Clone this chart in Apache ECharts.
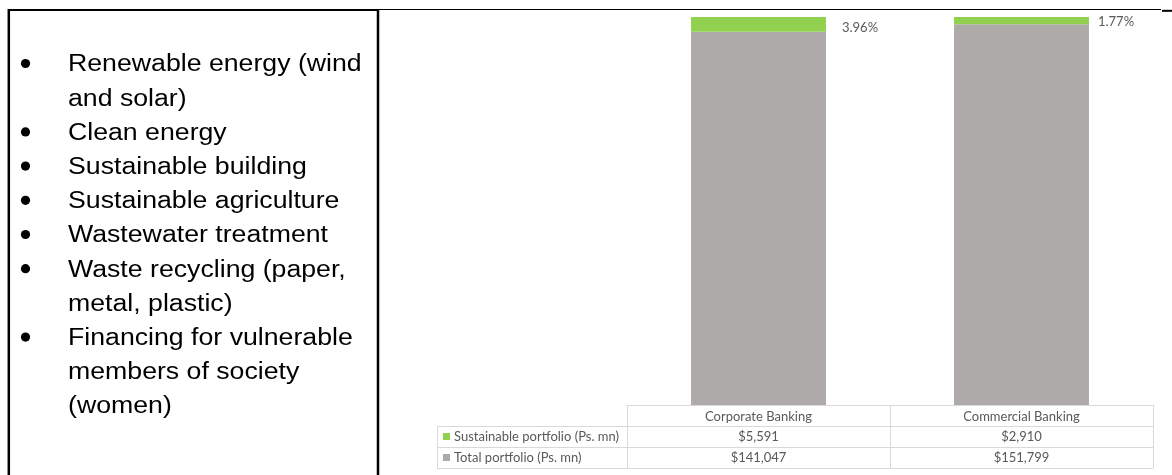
<!DOCTYPE html>
<html><head><meta charset="utf-8">
<script src="https://cdn.jsdelivr.net/npm/echarts@6/dist/echarts.min.js"></script>
<style>html,body{margin:0;padding:0;background:#fff}#c{width:1172px;height:475px}</style>
</head><body><div id="c"></div>
<script>
// ---- data ----
const categories = ['Corporate Banking', 'Commercial Banking'];
const sustainable = [5591, 2910];        // Sustainable portfolio (Ps. mn)
const total = [141047, 151799];          // Total portfolio (Ps. mn)
const shareLabels = ['3.96%', '1.77%'];
const seriesNames = ['Sustainable portfolio (Ps. mn)', 'Total portfolio (Ps. mn)'];
const valueText = [['$5,591', '$2,910'], ['$141,047', '$151,799']];
const bullets = [
  ['Renewable energy (wind', 'and solar)'],
  ['Clean energy'],
  ['Sustainable building'],
  ['Sustainable agriculture'],
  ['Wastewater treatment'],
  ['Waste recycling (paper,', 'metal, plastic)'],
  ['Financing for vulnerable', 'members of society', '(women)']
];

// ---- layout / style ----
const W = 1172, H = 475;
const GL = 627, GR = 1153, GT = 17, GB = 405;
const ROW_H = 21, TL = 437;
const GREEN = '#92d050', GRAY = '#aeaaaa', GRID = '#d9d9d9', TXT = '#595959';
const CHART_FONT = 'Lato, "Open Sans", sans-serif';
const LABEL_OFFSETS = [[16, 3], [9, 1]];

// 100% stacked shares
const sumArr = sustainable.map((s, i) => s + total[i]);
const susShare = sustainable.map((s, i) => s / sumArr[i] * 100);
const totShare = total.map((t, i) => t / sumArr[i] * 100);

const graphics = [];
// frame lines
const blk = (x1, y1, x2, y2, w) => graphics.push({type: 'line', silent: true, shape: {x1, y1, x2, y2}, style: {stroke: '#000', lineWidth: w}});
blk(8, 10, 379, 10, 2);
blk(379, 9.5, 1161, 9.5, 1);
blk(1162, 10.8, 1172, 10.8, 2);
blk(8.8, 9, 8.8, H, 2.5);
blk(378, 9, 378, H, 2.5);

// bullet list
let line = 0;
const MID0 = 65, LSTEP = 34.2;
bullets.forEach(item => {
  const by = MID0 + line * LSTEP;
  graphics.push({type: 'circle', silent: true, shape: {cx: 25.5, cy: by - 1.5, r: 4.6}, style: {fill: '#000'}});
  item.forEach(t => {
    const y = MID0 + line * LSTEP;
    graphics.push({type: 'text', silent: true, x: 68, y: y, scaleX: 1.16,
      style: {text: t, x: 0, y: 0, fill: '#000', font: '23px "Liberation Sans", Arial, sans-serif', verticalAlign: 'middle'}});
    line++;
  });
});

// data table
const gl = (x1, y1, x2, y2) => graphics.push({type: 'line', silent: true, shape: {x1, y1, x2, y2}, style: {stroke: GRID, lineWidth: 1}});
const colX = [GL];
const colW = (GR - GL) / categories.length;
categories.forEach((c, i) => colX.push(GL + colW * (i + 1)));
for (let r = 1; r <= 3; r++) gl(TL, GB + r * ROW_H + 0.5, GR, GB + r * ROW_H + 0.5);
gl(TL + 0.5, GB + ROW_H, TL + 0.5, GB + 3 * ROW_H);
colX.forEach(x => gl(Math.round(x) + 0.5, GB, Math.round(x) + 0.5, GB + 3 * ROW_H));
const legendColors = [GREEN, GRAY];
seriesNames.forEach((n, r) => {
  const cy = GB + (r + 1.5) * ROW_H;
  graphics.push({type: 'rect', silent: true, shape: {x: 443, y: cy - 3.5, width: 7, height: 7}, style: {fill: legendColors[r]}});
  graphics.push({type: 'text', silent: true, style: {text: n, x: 454, y: cy, fill: TXT, font: '13px ' + CHART_FONT, verticalAlign: 'middle'}});
  valueText[r].forEach((v, i) => {
    graphics.push({type: 'text', silent: true, style: {text: v, x: GL + colW * (i + 0.5), y: cy, fill: TXT, font: '13px ' + CHART_FONT, align: 'center', verticalAlign: 'middle'}});
  });
});

const chart = echarts.init(document.getElementById('c'), null, {renderer: 'canvas'});
chart.setOption({
  animation: false,
  backgroundColor: '#fff',
  grid: {left: GL, right: W - GR, top: GT, bottom: H - GB, containLabel: false},
  xAxis: {type: 'category', data: categories,
    axisLine: {show: true, lineStyle: {color: GRID, width: 1}},
    axisTick: {show: false},
    axisLabel: {color: TXT, fontSize: 13, fontFamily: CHART_FONT, margin: 5}},
  yAxis: {type: 'value', min: 0, max: 100, show: false, splitLine: {show: false}},
  series: [
    {name: seriesNames[1], type: 'bar', stack: 'p', data: totShare, barWidth: '51.3%',
      itemStyle: {color: GRAY}},
    {name: seriesNames[0], type: 'bar', stack: 'p', barWidth: '51.3%',
      data: susShare.map((v, i) => ({value: v, label: {offset: LABEL_OFFSETS[i]}})),
      itemStyle: {color: GREEN},
      label: {show: true, position: 'right', distance: 0, color: TXT, fontSize: 13, fontFamily: CHART_FONT,
        formatter: p => shareLabels[p.dataIndex]}}
  ],
  graphic: graphics
});
</script>
</body></html>
